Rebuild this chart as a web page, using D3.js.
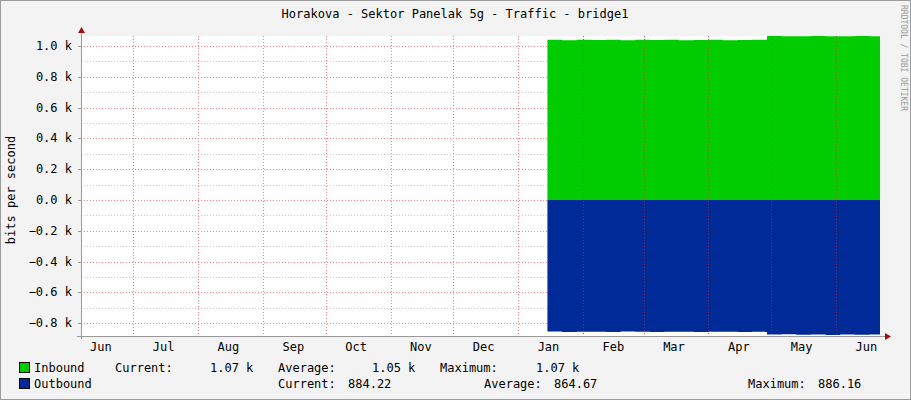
<!DOCTYPE html>
<html><head><meta charset="utf-8">
<script src="https://cdn.jsdelivr.net/npm/d3@7"></script>
<style>
body{margin:0;background:#f3f3f3;}
text{font-family:"DejaVu Sans Mono",monospace;font-size:12px;fill:#000;}
</style></head><body>
<svg id="chart" width="911" height="400"></svg>
<script>
// Traffic samples (k bits per second), one every ~7 days from mid-January
const sampleDates = ["2024-01-15","2024-01-22","2024-01-29","2024-02-05","2024-02-12","2024-02-19","2024-02-26",
  "2024-03-04","2024-03-11","2024-03-18","2024-03-25","2024-04-01","2024-04-08","2024-04-15","2024-04-22",
  "2024-04-28","2024-04-29","2024-05-06","2024-05-13","2024-05-20","2024-05-27","2024-06-03","2024-06-10","2024-06-17","2024-06-22"];
const inbound = [1.04,1.038,1.04,1.039,1.04,1.038,1.04,1.039,1.04,1.038,1.039,1.04,1.038,1.039,1.04,
  1.04,1.065,1.063,1.064,1.065,1.063,1.064,1.065,1.064,1.064];
const outbound = [-0.855,-0.858,-0.857,-0.856,-0.858,-0.855,-0.857,-0.858,-0.856,-0.857,-0.858,-0.856,-0.857,-0.858,-0.857,
  -0.858,-0.875,-0.872,-0.876,-0.874,-0.877,-0.875,-0.876,-0.874,-0.875];
const yTicks = [1.0,0.8,0.6,0.4,0.2,0.0,-0.2,-0.4,-0.6,-0.8];
const monthLabels = ["Jun","Jul","Aug","Sep","Oct","Nov","Dec","Jan","Feb","Mar","Apr","May","Jun"];

const svg = d3.select("#chart");
const pL = 81, pR = 880, pT = 36, pB = 336;
const parse = d3.utcParse("%Y-%m-%d");

const x = d3.scaleUtc().domain([parse("2023-06-06"), parse("2024-06-22")]).range([pL, pR]);
const y = d3.scaleLinear().domain([-0.884, 1.065]).range([pB, pT]);

// frame shading
svg.append("rect").attr("x",0.5).attr("y",0.5).attr("width",910).attr("height",399)
  .attr("fill","#f3f3f3").attr("stroke","#9a9a9a");
svg.append("rect").attr("x",pL).attr("y",pT).attr("width",pR-pL).attr("height",pB-pT).attr("fill","#fff");

// minor horizontal grid (odd 0.1k steps)
[0.9,0.7,0.5,0.3,0.1,-0.1,-0.3,-0.5,-0.7].forEach(v =>
  svg.append("line").attr("x1",pL).attr("x2",pR).attr("y1",Math.round(y(v))+0.5).attr("y2",Math.round(y(v))+0.5)
    .attr("stroke","#c8c8c8").attr("stroke-dasharray","1,2"));

// month grid
const monthStarts = d3.utcMonth.range(parse("2023-07-01"), parse("2024-06-22"));
svg.selectAll(".vg").data(monthStarts).join("line")
  .attr("x1",d=>Math.round(x(d))+0.5).attr("x2",d=>Math.round(x(d))+0.5).attr("y1",pT).attr("y2",pB)
  .attr("stroke","#f08080").attr("stroke-dasharray","1,2");

svg.selectAll(".hg").data(yTicks).join("line")
  .attr("x1",pL).attr("x2",pR).attr("y1",d=>Math.round(y(d))+0.5).attr("y2",d=>Math.round(y(d))+0.5)
  .attr("stroke","#f08080").attr("stroke-dasharray","1,2");

// areas
const dates = sampleDates.map(parse);
const area = d3.area().x((d,i)=>x(dates[i])).y0(y(0)).y1(d=>y(d)).curve(d3.curveStepAfter);
svg.append("path").attr("d", area(inbound)).attr("fill","#00cc00");
svg.append("path").attr("d", area(outbound)).attr("fill","#002a97");

// month grid over data
svg.selectAll(".vg2").data(monthStarts.filter(d=>x(d)>x(dates[0]))).join("line")
  .attr("x1",d=>Math.round(x(d))+0.5).attr("x2",d=>Math.round(x(d))+0.5).attr("y1",pT).attr("y2",pB)
  .attr("stroke","#c03030").attr("stroke-opacity",0.6).attr("stroke-dasharray","1,2");

// axes lines + arrows
svg.append("line").attr("x1",pL-4).attr("x2",pR+6).attr("y1",pB+0.5).attr("y2",pB+0.5).attr("stroke","#999");
svg.append("line").attr("x1",pL+0.5).attr("x2",pL+0.5).attr("y1",pT-5).attr("y2",pB+3).attr("stroke","#999");
svg.append("path").attr("d",`M${pR+5},${pB-3}L${pR+11},${pB+0.5}L${pR+5},${pB+4}Z`).attr("fill","#a01010");
svg.append("path").attr("d",`M${pL-3},${pT-3}L${pL+0.5},${pT-9}L${pL+4},${pT-3}Z`).attr("fill","#a01010");

// y labels
svg.selectAll(".yl").data(yTicks).join("text")
  .attr("x",pL-9).attr("y",d=>y(d)+4).attr("text-anchor","end")
  .text(d=>d3.format(".1f")(d)+" k");
svg.selectAll(".yt").data(yTicks).join("line")
  .attr("x1",pL-3).attr("x2",pL).attr("y1",d=>Math.round(y(d))+0.5).attr("y2",d=>Math.round(y(d))+0.5).attr("stroke","#999");

// x labels at mid-month
const mids = d3.utcMonth.range(parse("2023-06-01"), parse("2024-07-01")).map(d => new Date(+d + 14.5*864e5));
svg.selectAll(".xl").data(mids).join("text")
  .attr("x",d=>x(d)).attr("y",pB+15).attr("text-anchor","middle")
  .text((d,i)=>monthLabels[i]);

// title + side labels
svg.append("text").attr("x",455).attr("y",18).attr("text-anchor","middle").text("Horakova - Sektor Panelak 5g - Traffic - bridge1");
svg.append("text").attr("transform","translate(15,190) rotate(-90)").attr("text-anchor","middle").text("bits per second");
svg.append("text").attr("transform","translate(901,5) rotate(90)").style("font-size","8px").style("fill","#999")
  .text("RRDTOOL / TOBI OETIKER");

// legend
const legend = [
  {color:"#00cc00", y:372, parts:[[34,"Inbound"],[115,"Current:"],[210,"1.07 k"],[278,"Average:"],[372,"1.05 k"],[440,"Maximum:"],[536,"1.07 k"]]},
  {color:"#002a97", y:388, parts:[[34,"Outbound"],[278,"Current:"],[348,"884.22"],[484,"Average:"],[554,"864.67"],[748,"Maximum:"],[818,"886.16"]]}
];
legend.forEach(l => {
  svg.append("rect").attr("x",19.5).attr("y",l.y-9.5).attr("width",10).attr("height",10).attr("fill",l.color).attr("stroke","#000");
  l.parts.forEach(p => svg.append("text").attr("x",p[0]).attr("y",l.y).text(p[1]));
});
</script></body></html>
